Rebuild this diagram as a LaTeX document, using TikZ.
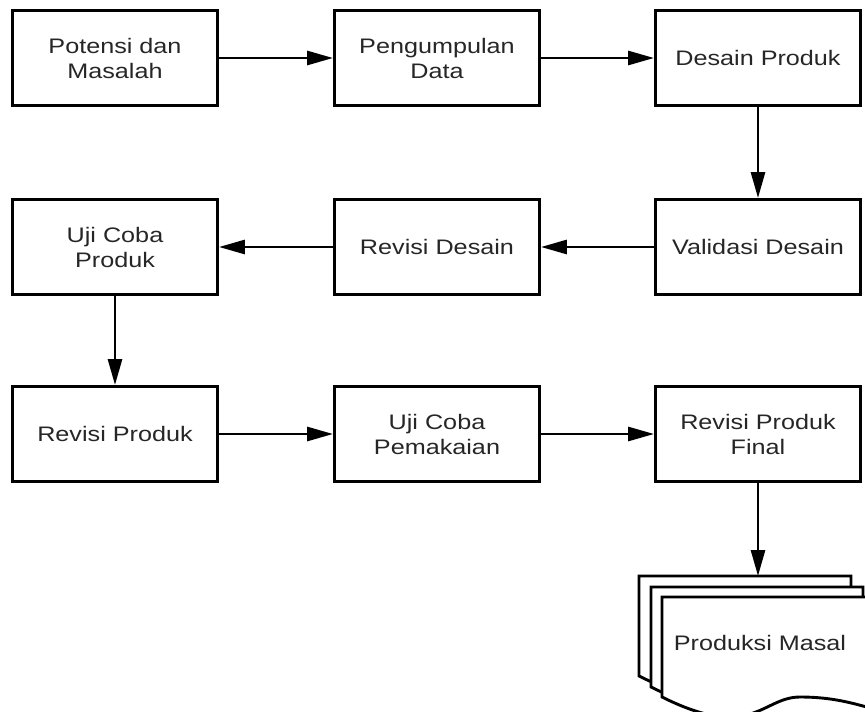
\documentclass[tikz,border=0pt]{standalone}
\usepackage{fontspec}
\setmainfont{Liberation Sans}[FakeStretch=1.2]
\usetikzlibrary{arrows.meta}

\begin{document}
\begin{tikzpicture}[x=1pt, y=-1pt,
    box/.style={draw, line width=2.9pt, minimum width=205pt, minimum height=95pt,
        inner sep=0pt, align=center, font=\fontsize{21}{25}\selectfont, text=black!85},
    flow/.style={-{Triangle[length=26pt,width=14pt]}, line width=2.8pt},
    sheet/.style={draw, fill=white, line width=2.9pt, line join=miter}]
    \useasboundingbox (0,0) rectangle (865,712);

    \node [box] (PDM)  at (115,58)  {Potensi dan\\Masalah};
    \node [box] (PD)   at (437,58)  {Pengumpulan\\Data};
    \node [box] (DP)   at (758,58)  {Desain Produk};

    \node [box] (UCP)  at (115,247) {Uji Coba\\Produk};
    \node [box] (RD)   at (437,247) {Revisi Desain};
    \node [box] (VD)   at (758,247) {Validasi Desain};

    \node [box] (RP)   at (115,434) {Revisi Produk};
    \node [box] (UCPM) at (437,434) {Uji Coba\\Pemakaian};
    \node [box] (RPF)  at (758,434) {Revisi Produk\\Final};

    \foreach \dx/\dy in {0/0, 12/11, 23/21} {
        \draw [sheet, shift={(639+\dx,576+\dy)}] (0,0) -- (212,0) -- (212,112)
            .. controls (190,106) and (170,100) .. (138,100)
            .. controls (100,100) and (90,145) .. (0,100) -- cycle;
    }
    \node [box, draw=none] (PM) at (760,643) {Produksi Masal};
    \coordinate (PMtop) at (758,576);

    \draw[flow] (PDM) -- (PD);
    \draw[flow] (PD) -- (DP);
    \draw[flow] (DP) -- (VD);
    \draw[flow] (VD) -- (RD);
    \draw[flow] (RD) -- (UCP);
    \draw[flow] (UCP) -- (RP);
    \draw[flow] (RP) -- (UCPM);
    \draw[flow] (UCPM) -- (RPF);
    \draw[flow] (RPF) -- (PMtop);
\end{tikzpicture}
\end{document}
